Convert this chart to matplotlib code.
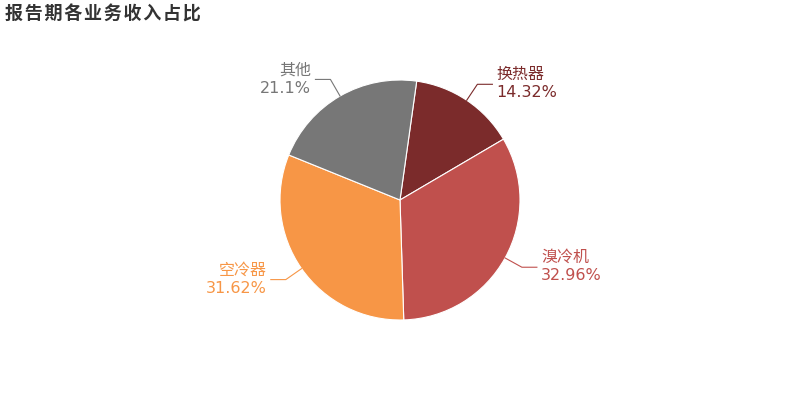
import matplotlib.pyplot as plt
import numpy as np

plt.rcParams['font.family'] = ['Noto Sans CJK SC', 'DejaVu Sans']

names = ['换热器', '溴冷机', '空冷器', '其他']
shares = [14.32, 32.96, 31.62, 21.1]
pct_labels = ['14.32%', '32.96%', '31.62%', '21.1%']
colors = ['#7b2b2b', '#c0504d', '#f79646', '#777777']

fig = plt.figure(figsize=(8, 4), dpi=100)
ax = fig.add_axes([280 / 800, 80 / 400, 240 / 800, 240 / 400])

wedges, _ = ax.pie(shares, colors=colors, startangle=82, counterclock=False,
                   radius=1, wedgeprops=dict(linewidth=0.8, edgecolor='white'))
ax.set_xlim(-1, 1)
ax.set_ylim(-1, 1)
ax.set_aspect('equal')
ax.axis('off')

for w, name, pct, c in zip(wedges, names, pct_labels, colors):
    ang = np.deg2rad((w.theta1 + w.theta2) / 2)
    x0, y0 = np.cos(ang), np.sin(ang)
    x1, y1 = 1.16 * x0, 1.16 * y0
    side = 1 if x0 > 0 else -1
    x2 = x1 + side * 0.125
    ax.plot([x0, x1, x2], [y0, y1, y1], color=c, lw=0.8, clip_on=False)
    ha = 'left' if side > 0 else 'right'
    tx = x2 + side * 0.035
    ax.text(tx, y1 + 0.01, name, color=c, fontsize=11.5, ha=ha, va='bottom')
    ax.text(tx, y1 - 0.01, pct, color=c, fontsize=11.5, ha=ha, va='top',
            family='DejaVu Sans')

title = '\u200a'.join('报告期各业务收入占比')
fig.text(5 / 800, 1 - 14 / 400, title, fontsize=13,
         fontweight='bold', color='#333333', ha='left', va='center',
         family=['Noto Sans CJK SC', 'DejaVu Sans'])

fig.savefig('out.png', dpi=100)
